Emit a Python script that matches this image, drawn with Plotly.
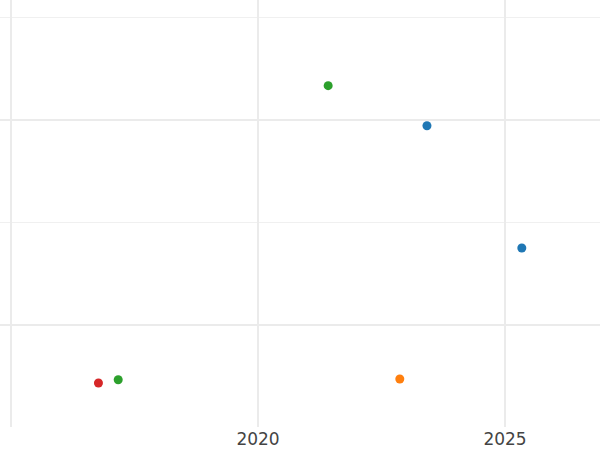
import plotly.graph_objects as go

# Data (x in years, y in axis units)
series_names = ["A", "B", "C", "D"]
series_colors = ["#1f77b4", "#ff7f0e", "#2ca02c", "#d62728"]
series_x = [
    [2023.42, 2025.34],
    [2022.87],
    [2017.17, 2021.42],
    [2016.77],
]
series_y = [
    [1.944, 0.751],
    [-0.527],
    [-0.534, 2.335],
    [-0.566],
]
x_tickvals = [2015, 2020, 2025]
x_ticktext = ["", "2020", "2025"]

fig = go.Figure()
for name, color, xs, ys in zip(series_names, series_colors, series_x, series_y):
    fig.add_trace(go.Scatter(
        x=xs, y=ys, mode="markers", name=name,
        marker=dict(color=color, size=9, line=dict(width=0)),
        showlegend=False,
    ))

grid_color = "#ebebeb"
fig.update_layout(
    width=600, height=450,
    margin=dict(l=0, r=0, t=0, b=23),
    paper_bgcolor="white", plot_bgcolor="white",
    font=dict(family="DejaVu Sans", size=17, color="#444444"),
    xaxis=dict(
        range=[2014.777, 2026.923],
        tickmode="array", tickvals=x_tickvals, ticktext=x_ticktext,
        showgrid=True, gridcolor=grid_color, gridwidth=2,
        zeroline=False, showline=False, ticks="",
    ),
    yaxis=dict(
        range=[-0.995, 3.1707],
        tick0=0, dtick=2,
        showticklabels=False,
        showgrid=True, gridcolor=grid_color, gridwidth=2,
        minor=dict(dtick=1, showgrid=True, gridcolor="#f0f0f0", gridwidth=1),
        zeroline=False, showline=False, ticks="",
    ),
)

fig.write_html(
    "out.html",
    config={"displayModeBar": False},
    post_script="document.body.style.margin='0px';document.body.style.overflow='hidden';",
)
